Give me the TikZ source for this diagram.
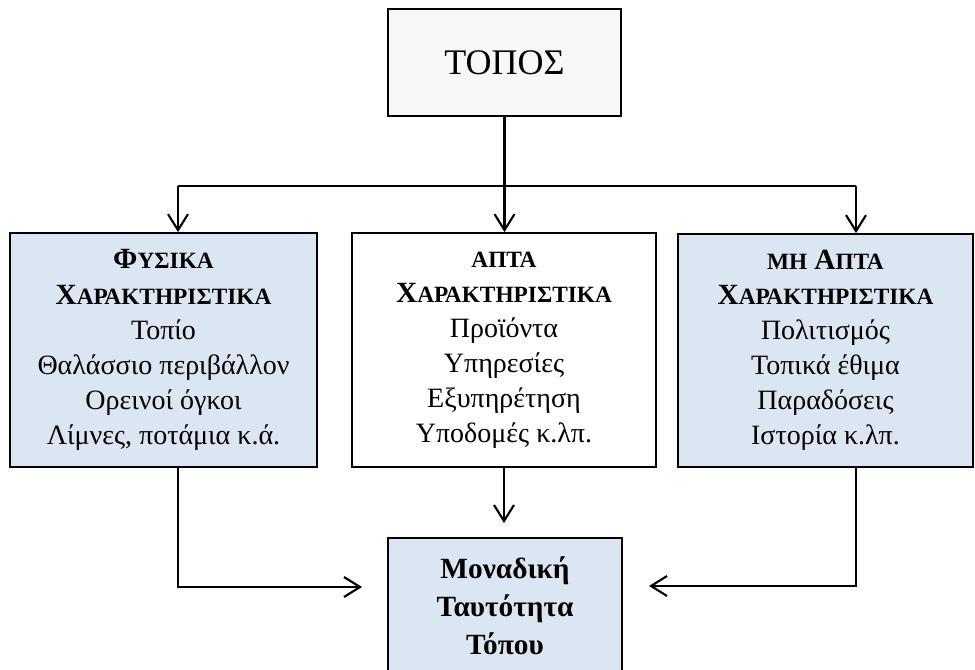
\documentclass[tikz,border=0pt]{standalone}
\usepackage{fontspec}
\setmainfont{Liberation Serif}
\usetikzlibrary{arrows.meta}

\definecolor{boxblue}{HTML}{DCE6F2}
\definecolor{boxgray}{HTML}{F7F7F7}
\newcommand\smcap[1]{{\fontsize{17.5}{26}\selectfont #1}}
\newcommand\initcap[1]{{\fontsize{22}{26}\selectfont #1}}

\begin{document}
\begin{tikzpicture}[x=0.75pt,y=-0.75pt,
    box/.style={draw=black,line width=1.3pt,align=center,inner sep=0pt,
        font=\fontsize{21}{26.3}\selectfont},
    bluebox/.style={box,fill=boxblue},
    conn/.style={line width=1.8pt},
    arr/.style={conn,-{Straight Barb[length=12pt,width=15pt,line width=1.6pt]}}]
    \useasboundingbox (0,0) rectangle (975,670);

    \node[box,fill=boxgray,minimum width=174.75pt,minimum height=80.25pt,
        font=\fontsize{27}{32}\selectfont] (topos) at (504.5,62.5) {ΤΟΠΟΣ};

    \node[bluebox,minimum width=230.25pt,minimum height=175.5pt] (fysika) at (163.5,350)
        {\textbf{\initcap{Φ}\smcap{ΥΣΙΚΑ}}\\ \textbf{\initcap{Χ}\smcap{ΑΡΑΚΤΗΡΙΣΤΙΚΑ}}\\ Τοπίο\\
         Θαλάσσιο περιβάλλον\\ Ορεινοί όγκοι\\ Λίμνες, ποτάμια κ.ά.};
    \node[box,fill=white,minimum width=228pt,minimum height=175.5pt] (apta) at (504,350)
        {\textbf{\smcap{ΑΠΤΑ}}\\ \textbf{\initcap{Χ}\smcap{ΑΡΑΚΤΗΡΙΣΤΙΚΑ}}\\ Προϊόντα\\
         Υπηρεσίες\\ Εξυπηρέτηση\\ Υποδομές κ.λπ.};
    \node[bluebox,minimum width=221.25pt,minimum height=174.75pt] (mhapta) at (825.5,350.5)
        {\textbf{\smcap{ΜΗ} \initcap{Α}\smcap{ΠΤΑ}}\\ \textbf{\initcap{Χ}\smcap{ΑΡΑΚΤΗΡΙΣΤΙΚΑ}}\\ Πολιτισμός\\
         Τοπικά έθιμα\\ Παραδόσεις\\ Ιστορία κ.λπ.};

    \node[bluebox,minimum width=175.5pt,minimum height=101.25pt,
        font=\fontsize{22}{28.5}\selectfont\bfseries] (taytotita) at (505,605.5)
        {Μοναδική\\ Ταυτότητα\\ Τόπου};

    % branch from the top box
    \coordinate (split) at (504.5,186);
    \coordinate (bl) at (178,186);
    \coordinate (br) at (856,186);
    \draw[conn] (topos) -- (split);
    \draw[conn] (bl) -- (br);
    \draw[arr] (bl) -- (bl |- fysika.north);
    \draw[arr] (split) -- (split |- apta.north);
    \draw[arr] (br) -- (br |- mhapta.north);

    % into the bottom box
    \coordinate (inl) at (362,587);
    \coordinate (inm) at (504,523);
    \coordinate (inr) at (649,586);
    \draw[arr] (fysika.south -| bl) |- (inl);
    \draw[arr] (apta.south) -- (inm);
    \draw[arr] (mhapta.south -| br) |- (inr);
\end{tikzpicture}
\end{document}
